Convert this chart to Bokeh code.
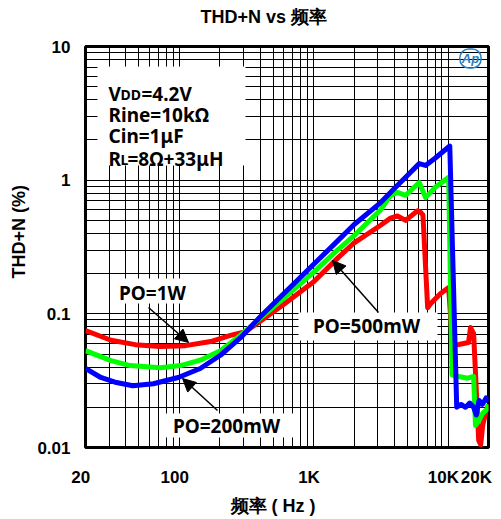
import math
from bokeh.plotting import figure
from bokeh.models import FixedTicker, Label, BoxAnnotation, Arrow, NormalHead, Title
from bokeh.embed import file_html
from bokeh.resources import INLINE

# ---------------- data ----------------
freq_1w = [20, 31, 47, 72, 111, 171, 240, 311, 400, 600, 1000, 1500, 2000, 3150, 3730, 4200, 4830, 5930, 6300,
           6500, 7050, 7400, 8800, 10100, 10800, 12000, 14200, 14700, 15500, 16900, 17500, 18100, 19000, 20000]
thd_1w = [0.075, 0.0634, 0.0588, 0.0569, 0.0578, 0.062, 0.069, 0.0735, 0.088, 0.118, 0.174, 0.26, 0.34, 0.46, 0.52,
          0.54, 0.50, 0.59, 0.57, 0.55, 0.111, 0.119, 0.142, 0.157, 0.058, 0.059, 0.061, 0.079, 0.071, 0.0113,
          0.0105, 0.0146, 0.018, 0.021]

freq_500mw = [20, 31, 43, 72, 102, 143, 202, 284, 400, 600, 1000, 1500, 2000, 3150, 3730, 4200, 4830, 6100, 6800,
              8000, 10100, 10700, 12000, 14000, 15500, 16000, 17000, 18100, 19700, 20000]
thd_500mw = [0.053, 0.0447, 0.041, 0.0395, 0.041, 0.045, 0.053, 0.069, 0.093, 0.131, 0.205, 0.30, 0.385, 0.60,
             0.77, 0.81, 0.77, 0.96, 0.74, 0.88, 1.05, 0.035, 0.034, 0.033, 0.034, 0.0146, 0.016, 0.018, 0.0196, 0.021]

freq_200mw = [20, 26, 34, 45, 64, 98, 143, 202, 284, 400, 600, 1000, 1500, 2000, 3150, 4000, 5000, 6100, 6800,
              8000, 10300, 11600, 12500, 13500, 14500, 15500, 16200, 17000, 18000, 19200, 20000]
thd_200mw = [0.039, 0.0334, 0.0306, 0.029, 0.030, 0.0334, 0.039, 0.049, 0.066, 0.095, 0.142, 0.235, 0.35, 0.466,
             0.68, 0.87, 1.09, 1.33, 1.29, 1.46, 1.80, 0.020, 0.021, 0.020, 0.0215, 0.020, 0.0175, 0.0225, 0.021,
             0.0235, 0.022]

x_ticks = [20, 100, 1000, 10000, 20000]
x_tick_labels = ["20", "100", "1K", "10K", "20K"]
y_ticks = [0.01, 0.1, 1, 10]
y_tick_labels = ["0.01", "0.1", "1", "10"]

x_grid = [20, 30, 40, 50, 60, 70, 80, 90, 100, 200, 300, 400, 500, 600, 700, 800, 900, 1000,
          2000, 3000, 4000, 5000, 6000, 7000, 8000, 9000, 10000, 20000]
y_grid = [m * 10.0 ** e for e in (-2, -1, 0) for m in range(1, 10)] + [10]

FONT = "Liberation Sans"
BOXFONT = "Noto Sans"
PAD = "\u00a0\u00a0"  # original x labels sit a few px left of their ticks

p = figure(width=501, height=519, x_axis_type="log", y_axis_type="log",
           x_range=(20, 20000), y_range=(0.01, 10),
           output_backend="svg", toolbar_location=None,
           min_border_left=85, min_border_right=13, min_border_top=46, min_border_bottom=72)
p.background_fill_color = "white"
p.border_fill_color = "white"
p.outline_line_color = "black"
p.outline_line_width = 3

p.xaxis.ticker = FixedTicker(ticks=x_ticks)
p.xaxis.major_label_overrides = {t: s + PAD for t, s in zip(x_ticks, x_tick_labels)}
p.yaxis.ticker = FixedTicker(ticks=y_ticks)
p.yaxis.major_label_overrides = {t: s for t, s in zip(y_ticks, y_tick_labels)}
for ax in (p.xaxis, p.yaxis):
    ax.axis_line_color = None
    ax.major_tick_line_color = None
    ax.minor_tick_line_color = None
    ax.major_label_text_font = FONT
    ax.major_label_text_font_style = "bold"
    ax.major_label_text_font_size = "17px"
    ax.major_label_text_color = "black"
p.xaxis.major_label_standoff = 14
p.yaxis.major_label_standoff = 9

p.xgrid.ticker = FixedTicker(ticks=x_grid)
p.ygrid.ticker = FixedTicker(ticks=y_grid)
for g in (p.xgrid, p.ygrid):
    g.grid_line_color = "black"
    g.grid_line_width = 1
    g.grid_line_alpha = 1.0

p.line(freq_1w, thd_1w, line_color="#ff0000", line_width=5, line_join="round")
p.line(freq_500mw, thd_500mw, line_color="#00ff00", line_width=5, line_join="round")
p.line(freq_200mw, thd_200mw, line_color="#0000ff", line_width=5, line_join="round")

def sbox(l, r, t, b):
    p.add_layout(BoxAnnotation(left=l, right=r, top=t, bottom=b,
                               left_units="screen", right_units="screen",
                               top_units="screen", bottom_units="screen",
                               fill_color="white", fill_alpha=1.0, line_color=None))

def lab(x, y, text, size="19px", font=BOXFONT, align="left", baseline="alphabetic", angle=0, style="bold",
        color="black", **kw):
    p.add_layout(Label(x=x, y=y, x_units="screen", y_units="screen", text=text,
                       text_font=font, text_font_size=size, text_font_style=style,
                       text_color=color, text_align=align, text_baseline=baseline, angle=angle, **kw))

# parameter box
sbox(12, 160, 381, 282)
lab(23, 354, "V")
lab(35, 353, "DD", size="14px")
lab(56, 354, "=4.2V")
lab(23, 333, "Rine=10kΩ")
lab(23, 312, "Cin=1μF")
lab(23, 289, "R")
lab(35, 288, "L", size="14px")
lab(42, 289, "=8Ω+33μH")

# PO labels
sbox(25, 108, 169, 144)
lab(67, 155, "PO=1W", baseline="middle", align="center")
sbox(80, 213, 34, 10)
lab(141, 22, "PO=200mW", baseline="middle", align="center")
sbox(213, 352, 135, 107)
lab(281, 122, "PO=500mW", baseline="middle", align="center")

def arrow(x0, y0, x1, y1):
    p.add_layout(Arrow(x_start=x0, y_start=y0, x_end=x1, y_end=y1,
                       start_units="screen", end_units="screen",
                       line_color="black", line_width=1.5,
                       end=NormalHead(size=13, fill_color="black", line_color="black")))

arrow(63, 140, 103, 105)
arrow(132, 37, 97, 69)
arrow(293, 135, 247, 187)

# logo
lab(385, 389, "Ap", size="13px", font=FONT, align="center", baseline="middle", style="bold italic",
    color="#2a7fc0", border_line_color="#2a7fc0", border_line_width=1.5, border_radius=9, padding=2)

# titles (blank second line lifts the title away from the frame)
p.add_layout(Title(text="THD+N vs 频率\n\u00a0", align="left", offset=115, standoff=0,
                   text_font=FONT, text_font_size="18px", text_font_style="bold", text_color="black"), "above")
p.add_layout(Title(text="频率 ( Hz )", align="left", offset=145, standoff=8,
                   text_font=FONT, text_font_size="18px", text_font_style="bold", text_color="black"), "below")
p.add_layout(Title(text="THD+N (%)", align="left", offset=169, standoff=11,
                   text_font=FONT, text_font_size="18px", text_font_style="bold", text_color="black"), "left")

open("out.html", "w").write(file_html(p, INLINE))
